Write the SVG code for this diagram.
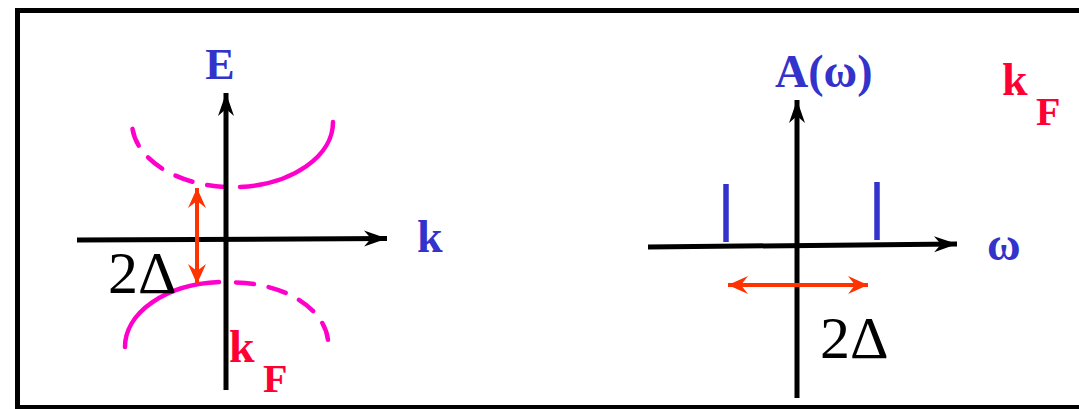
<svg xmlns="http://www.w3.org/2000/svg" width="1079" height="409" viewBox="0 0 1079 409">
<style>
.ax{stroke:#000;stroke-width:5;fill:none}
.band{stroke:#FF00CC;stroke-width:4.5;fill:none;stroke-linecap:round}
.dash{stroke-dasharray:18 15}
.gap{stroke:#FF3300;stroke-width:4;fill:none}
.bar{stroke:#3333CC;stroke-width:5.5}
.lbl{font-family:"Liberation Serif",serif;font-weight:bold;fill:#3333CC}
.red{font-family:"Liberation Serif",serif;font-weight:bold;fill:#FF0033}
.dl{font-family:"Liberation Serif",serif;fill:#000;font-size:60px}
</style>
<defs>
<marker id="ah" markerUnits="userSpaceOnUse" markerWidth="30" markerHeight="20" viewBox="-24 -10 26 20" refX="0" refY="0" orient="auto">
<path d="M0,0 L-23,-8 L-16,0 L-23,8 Z" fill="#000"/>
</marker>
<marker id="oh" markerUnits="userSpaceOnUse" markerWidth="30" markerHeight="24" viewBox="-24 -12 26 24" refX="0" refY="0" orient="auto-start-reverse">
<path d="M0,0 L-20,-9 L-13,0 L-20,9 Z" fill="#FF3300"/>
</marker>
</defs>
<rect x="17.5" y="10.5" width="1080" height="397" fill="none" stroke="#000" stroke-width="5"/>
<g id="left-panel">
<g id="bands">
<path class="band" d="M333,122 A101,65 0 0 1 240,187"/>
<path class="band dash" d="M225,187 A101,65 0 0 1 132,120"/>
<path class="band" d="M125,347 A100,65 0 0 1 219,282"/>
<path class="band dash" d="M236,282.5 A96,62 0 0 1 328,340"/>
</g>
<g id="connectors-left">
<line class="ax" x1="77" y1="240" x2="387" y2="238.5" marker-end="url(#ah)"/>
<line class="ax" x1="226" y1="390" x2="226" y2="93" marker-end="url(#ah)"/>
<line class="gap" x1="197" y1="188" x2="197" y2="284" marker-start="url(#oh)" marker-end="url(#oh)"/>
</g>
<text class="lbl" x="220" y="79" font-size="44" text-anchor="middle">E</text>
<text class="lbl" x="417" y="252" font-size="46">k</text>
<text class="dl" x="108" y="293">2Δ</text>
<text class="red" x="229" y="362" font-size="46">k</text>
<text class="red" x="263" y="392" font-size="40">F</text>
</g>
<g id="right-panel">
<g id="connectors-right">
<line class="ax" x1="648" y1="247" x2="957" y2="244" marker-end="url(#ah)"/>
<line class="ax" x1="797" y1="398" x2="797" y2="100" marker-end="url(#ah)"/>
<line class="gap" x1="728" y1="285" x2="868" y2="285" marker-start="url(#oh)" marker-end="url(#oh)"/>
</g>
<line class="bar" x1="726" y1="184" x2="726" y2="242"/>
<line class="bar" x1="877" y1="182" x2="877" y2="240"/>
<text class="lbl" x="775" y="87" font-size="46">A(ω)</text>
<text class="lbl" x="987" y="260" font-size="46">ω</text>
<text class="dl" x="820" y="358">2Δ</text>
<text class="red" x="1002" y="95" font-size="46">k</text>
<text class="red" x="1036" y="125" font-size="40">F</text>
</g>
</svg>
